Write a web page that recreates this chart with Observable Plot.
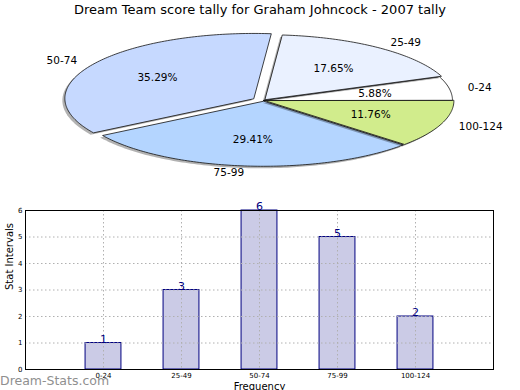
<!DOCTYPE html>
<html>
<head>
<meta charset="utf-8">
<script src="https://cdn.jsdelivr.net/npm/d3@7"></script>
<script src="https://cdn.jsdelivr.net/npm/@observablehq/plot@0.6"></script>
<style>
  html, body { margin: 0; padding: 0; background: #fff; }
  #wrap { position: relative; width: 520px; height: 390px; overflow: hidden; font-family: "DejaVu Sans", sans-serif; }
  #title { height: 20px; line-height: 20px; text-align: center; font-size: 13px; font-weight: normal; color: #000; }
  #mark { position: absolute; left: 0; top: 374px; line-height: 14px; font-size: 12.5px; color: #8a8a8a; opacity: 0.95; }
  svg { display: block; }
</style>
</head>
<body>
<div id="wrap">
  <div id="title"></div>
  <div id="pie"></div>
  <div id="bars"></div>
  <div id="mark">Dream-Stats.com</div>
</div>
<script>
// ---- data ----
const title = "Dream Team score tally for Graham Johncock - 2007 tally";
const categories = ["0-24", "25-49", "50-74", "75-99", "100-124"];
const counts = [1, 3, 6, 5, 2];
const pieColors = ["#ffffff", "#eaf1ff", "#c6d9ff", "#b4d5ff", "#d1ec8c"];
const explode = [0, 0.015, 0.06, 0.012, 0.008];
const yTicks = [0, 1, 2, 3, 4, 5, 6];
const xLabel = "Frequency";
const yLabel = "Stat Intervals";

document.getElementById("title").textContent = title;

// ---- pie (elliptical, matplotlib-like) ----
const P = {cx: 263, cy: 100, rx: 189, ry: 65};
const total = d3.sum(counts);
let acc = 0;
const slices = categories.map((c, i) => {
  const a0 = acc / total * 360;
  acc += counts[i];
  const a1 = acc / total * 360;
  const mid = (a0 + a1) / 2 * Math.PI / 180;
  const ox = P.cx + explode[i] * P.rx * Math.cos(mid);
  const oy = P.cy - explode[i] * P.ry * Math.sin(mid);
  const pts = [{x: ox, y: oy}];
  const n = Math.ceil(a1 - a0) + 1;
  for (let k = 0; k <= n; k++) {
    const t = (a0 + (a1 - a0) * k / n) * Math.PI / 180;
    pts.push({x: ox + P.rx * Math.cos(t), y: oy - P.ry * Math.sin(t)});
  }
  const pct = (counts[i] / total * 100).toFixed(2) + "%";
  const lx = ox + 1.1 * P.rx * Math.cos(mid);
  const ly = oy - 1.1 * P.ry * Math.sin(mid);
  const px = ox + 0.6 * P.rx * Math.cos(mid);
  const py = oy - 0.6 * P.ry * Math.sin(mid);
  return {c, i, pts, pct, lx, ly, px, py, anchor: Math.cos(mid) >= 0 ? "start" : "end"};
});

const pieMarks = [];
slices.forEach(s => {
  pieMarks.push(Plot.line(s.pts, {x: "x", y: "y", curve: "linear-closed", fill: "#000", fillOpacity: 0.3, stroke: "none", dx: -2.5, dy: 2}));
  pieMarks.push(Plot.line(s.pts, {x: "x", y: "y", curve: "linear-closed", fill: pieColors[s.i], stroke: "#111", strokeWidth: 0.8}));
});
pieMarks.push(Plot.text(slices, {x: "px", y: "py", text: "pct", fontSize: 10.5, fill: "#000"}));
pieMarks.push(Plot.text(slices.filter(s => s.anchor === "start"), {x: "lx", y: "ly", text: "c", textAnchor: "start", fontSize: 10.5, fill: "#000"}));
pieMarks.push(Plot.text(slices.filter(s => s.anchor === "end"), {x: "lx", y: "ly", text: "c", textAnchor: "end", fontSize: 10.5, fill: "#000"}));

const pie = Plot.plot({
  width: 520, height: 180,
  margin: 0,
  x: {domain: [0, 520], range: [0, 520], axis: null},
  y: {domain: [20, 200], range: [0, 180], axis: null},
  style: {fontFamily: "DejaVu Sans", background: "transparent", overflow: "visible"},
  marks: pieMarks
});
document.getElementById("pie").append(pie);

// ---- bar chart ----
const barData = categories.map((c, i) => ({c, i, v: counts[i]}));
const bars = Plot.plot({
  width: 520, height: 190,
  marginLeft: 25, marginRight: 27, marginTop: 10, marginBottom: 21,
  x: {domain: [-1, 5]},
  y: {domain: [0, 6]},
  style: {fontFamily: "DejaVu Sans", background: "transparent", overflow: "visible"},
  marks: [
    Plot.rectY(barData, {x1: d => d.i - 0.23, x2: d => d.i + 0.23, y: "v", fill: "#cbcbe6", stroke: "#000080", strokeWidth: 1}),
    Plot.ruleY(yTicks, {stroke: "#b0b0b0", strokeDasharray: "1.5,2.5"}),
    Plot.ruleX(barData, {x: "i", stroke: "#b0b0b0", strokeDasharray: "1.5,2.5"}),
    Plot.frame({stroke: "#000"}),
    Plot.axisY({ticks: yTicks, tickFormat: d => String(d), tickSize: 0, tickPadding: 3, fontSize: 7, label: null}),
    Plot.axisX({ticks: barData.map(d => d.i), tickFormat: i => categories[i], tickSize: 0, tickPadding: 4, fontSize: 7, label: null}),
    Plot.text([yLabel], {frameAnchor: "left", rotate: -90, dx: -16, fontSize: 10, fill: "#000"}),
    Plot.text([xLabel], {frameAnchor: "bottom", dy: 20, fontSize: 10, fill: "#000"}),
    Plot.text(barData, {x: "i", y: "v", text: d => String(d.v), lineAnchor: "bottom", dy: -0.5, fill: "#000080", fontSize: 11})
  ]
});
document.getElementById("bars").append(bars);
</script>
</body>
</html>
